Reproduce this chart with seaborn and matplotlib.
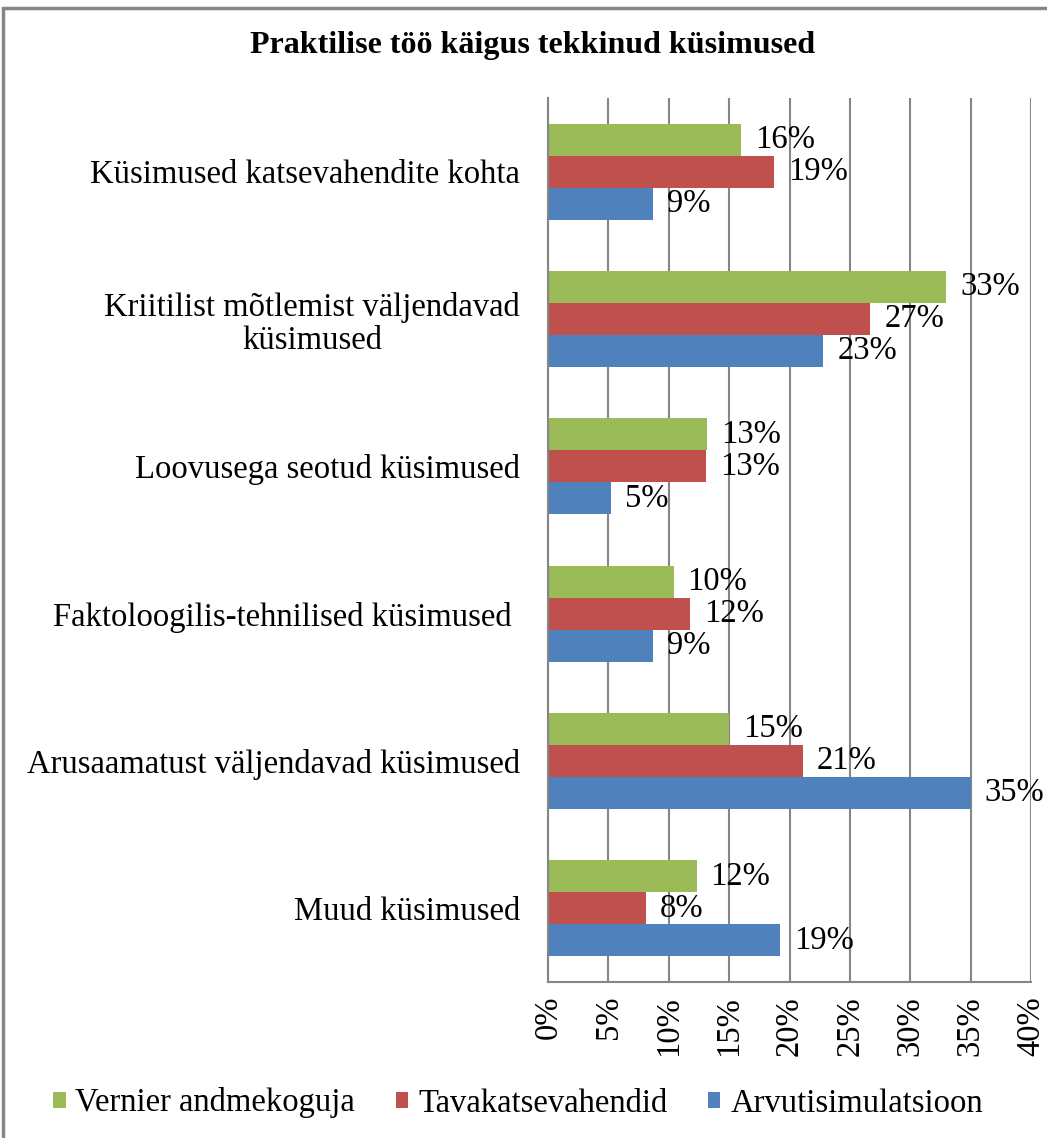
import matplotlib
matplotlib.use('Agg')
import matplotlib.pyplot as plt
from matplotlib.patches import Patch, Rectangle
import seaborn as sns
import pandas as pd
import numpy as np

categories = ['Küsimused katsevahendite kohta',
              'Kriitilist mõtlemist väljendavad\nküsimused',
              'Loovusega seotud küsimused',
              'Faktoloogilis-tehnilised küsimused ',
              'Arusaamatust väljendavad küsimused',
              'Muud küsimused']
series = ['Vernier andmekoguja', 'Tavakatsevahendid', 'Arvutisimulatsioon']
vernier = [16.0, 33.0, 13.2, 10.4, 15.0, 12.3]
tava = [18.7, 26.7, 13.1, 11.8, 21.1, 8.1]
arvuti = [8.7, 22.8, 5.2, 8.7, 35.0, 19.2]
xticks = [0, 5, 10, 15, 20, 25, 30, 35, 40]
colors = ['#9BBB59', '#C0504D', '#4F81BD']

df = pd.DataFrame({
    'kategooria': categories * 3,
    'seeria': [s for s in series for _ in categories],
    'vaartus': vernier + tava + arvuti,
})

sns.set_style('white')
plt.rcParams['font.family'] = ['Liberation Serif', 'DejaVu Serif']
plt.rcParams['text.color'] = 'black'
plt.rcParams['xtick.labelcolor'] = 'black'
plt.rcParams['ytick.labelcolor'] = 'black'
grid = '#868686'
fs = 23.5

fig = plt.figure(figsize=(10.47, 11.38), dpi=100)
ax = fig.add_axes([548/1047, 1 - 982/1138, (1031-548)/1047, (982-98)/1138])

sns.barplot(data=df, y='kategooria', x='vaartus', hue='seeria',
            hue_order=series, order=categories, palette=colors,
            orient='h', width=0.653, gap=0, ax=ax, legend=False,
            saturation=1, linewidth=0)

for c in ax.containers:
    ax.bar_label(c, fmt='{:.0f}%', padding=10, fontsize=fs, color='black')

ax.set_xlim(0, 40)
ax.set_xticks(xticks)
ax.set_xticklabels(['%d%%' % v for v in xticks], rotation=90, fontsize=fs)
ax.set_xlabel('')
ax.set_ylabel('')
ax.xaxis.grid(True, color=grid, linewidth=1.5)
ax.set_axisbelow(True)
for s in ['top', 'right']:
    ax.spines[s].set_visible(False)
for s in ['left', 'bottom']:
    ax.spines[s].set_color(grid)
    ax.spines[s].set_linewidth(1.5)

ax.set_yticks(np.arange(-0.5, len(categories)), minor=True)
ax.tick_params(axis='y', which='major', length=0, pad=20, labelsize=fs)
ax.tick_params(axis='y', which='minor', length=6, width=1.5, color=grid, direction='out')
ax.tick_params(axis='x', which='major', length=6, width=1.5, color=grid, direction='out', pad=4)
for lbl in ax.get_yticklabels():
    lbl.set_multialignment('center')
    lbl.set_linespacing(1.1)

fig.text(533/1047, 1 - 45/1138, 'Praktilise töö käigus tekkinud küsimused',
         ha='center', va='center', fontsize=23, fontweight='bold')

handles = [Patch(facecolor=c, edgecolor='none') for c in colors]
fig.legend(handles, series, loc='center', bbox_to_anchor=(518/1047, 1 - 1103/1138),
           ncol=3, frameon=False, fontsize=fs, handlelength=0.38, handleheight=0.38,
           handletextpad=0.3, columnspacing=1.25)

fig.patches.append(Rectangle((3/1047, -0.05), 1.1, 1 - 8/1138 + 0.05,
                             transform=fig.transFigure, fill=False,
                             edgecolor=grid, linewidth=2.5))

fig.savefig('out.png', dpi=100)
